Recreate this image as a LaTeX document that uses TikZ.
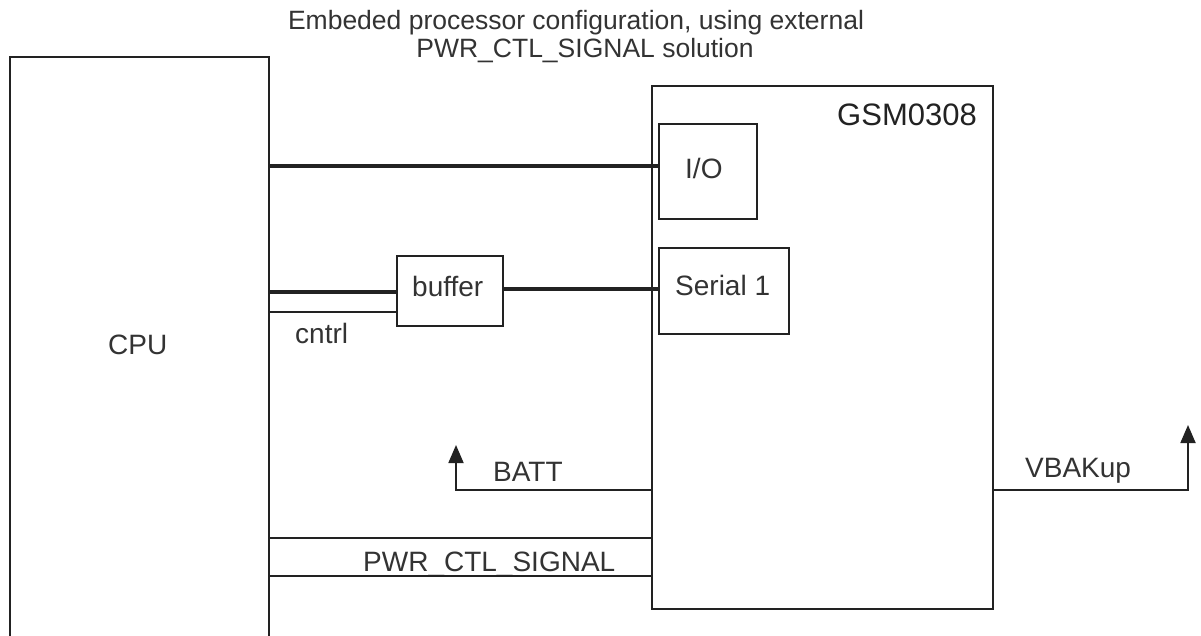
\documentclass[tikz,border=0pt]{standalone}
\usepackage{fontspec}
\setmainfont{Liberation Sans}
\usetikzlibrary{arrows.meta}
\definecolor{ink}{HTML}{222222}
\definecolor{txt}{HTML}{333333}
\begin{document}
\begin{tikzpicture}[x=1pt,y=-1pt,
  box/.style={draw=ink, line width=1.8pt, inner sep=0pt, anchor=north west},
  busline/.style={draw=ink, line width=3.5pt},
  thinline/.style={draw=ink, line width=1.8pt},
  lbl/.style={font=\fontsize{28}{31}\selectfont, text=txt, inner sep=0pt, anchor=base west},
  ttl/.style={font=\fontsize{26.5}{29}\selectfont, text=txt, inner sep=0pt, anchor=base},
  uparrow/.style={thinline, -{Triangle[width=15pt,length=18pt]}}]
\useasboundingbox (0,0) rectangle (1201,635);
\fill[white] (0,0) rectangle (1201,635);
% boxes
\node[box, minimum width=259pt, minimum height=644pt] (cpu) at (9,56) {};
\node[box, minimum width=341pt, minimum height=523pt] (gsm) at (651,85) {};
\node[box, minimum width=98pt, minimum height=95pt] (io) at (658,123) {};
\node[box, minimum width=130pt, minimum height=86pt] (ser) at (658,247) {};
\node[box, minimum width=106pt, minimum height=70pt] (buf) at (396,255) {};
% labels
\node[ttl] (title1) at (576,29) {Embeded processor configuration, using external};
\node[ttl] (title2) at (585,57) {PWR\_CTL\_SIGNAL solution};
\node[lbl] (cpul) at (108,354) {CPU};
\node[lbl] (cntrl) at (295,343) {cntrl};
\node[lbl] (bufl) at (412,296) {buffer};
\node[lbl] (iol) at (685,178) {I/O};
\node[lbl] (serl) at (675,295) {Serial 1};
\node[lbl] (battl) at (493,481) {BATT};
\node[lbl] (pwrl) at (363,571) {PWR\_CTL\_SIGNAL};
\node[lbl] (vbl) at (1025,477) {VBAKup};
\node[font=\fontsize{31}{34}\selectfont, text=ink, inner sep=0pt, anchor=base east] (gsml) at (977,125) {GSM0308};
% free ends
\coordinate (battend) at (456,445);
\coordinate (vbend) at (1188,425);
% connectors
\draw[busline] ([yshift=5.5pt]io.west) coordinate (a1) -- (cpu.east |- a1);
\draw[busline] ([yshift=-1pt]buf.west) coordinate (a2) -- (cpu.east |- a2);
\draw[thinline] ([yshift=-21pt]buf.west) coordinate (a3) -- (cpu.east |- a3);
\draw[busline] ([yshift=2pt]buf.east) coordinate (a4) -- (ser.west |- a4);
\draw[uparrow] ([yshift=-142.5pt]gsm.west) -| (battend);
\draw[uparrow] ([yshift=-142.5pt]gsm.east) -| (vbend);
\draw[thinline] ([yshift=-190.5pt]gsm.west) coordinate (a5) -- (cpu.east |- a5);
\draw[thinline] ([yshift=-228.5pt]gsm.west) coordinate (a6) -- (cpu.east |- a6);
\end{tikzpicture}
\end{document}
